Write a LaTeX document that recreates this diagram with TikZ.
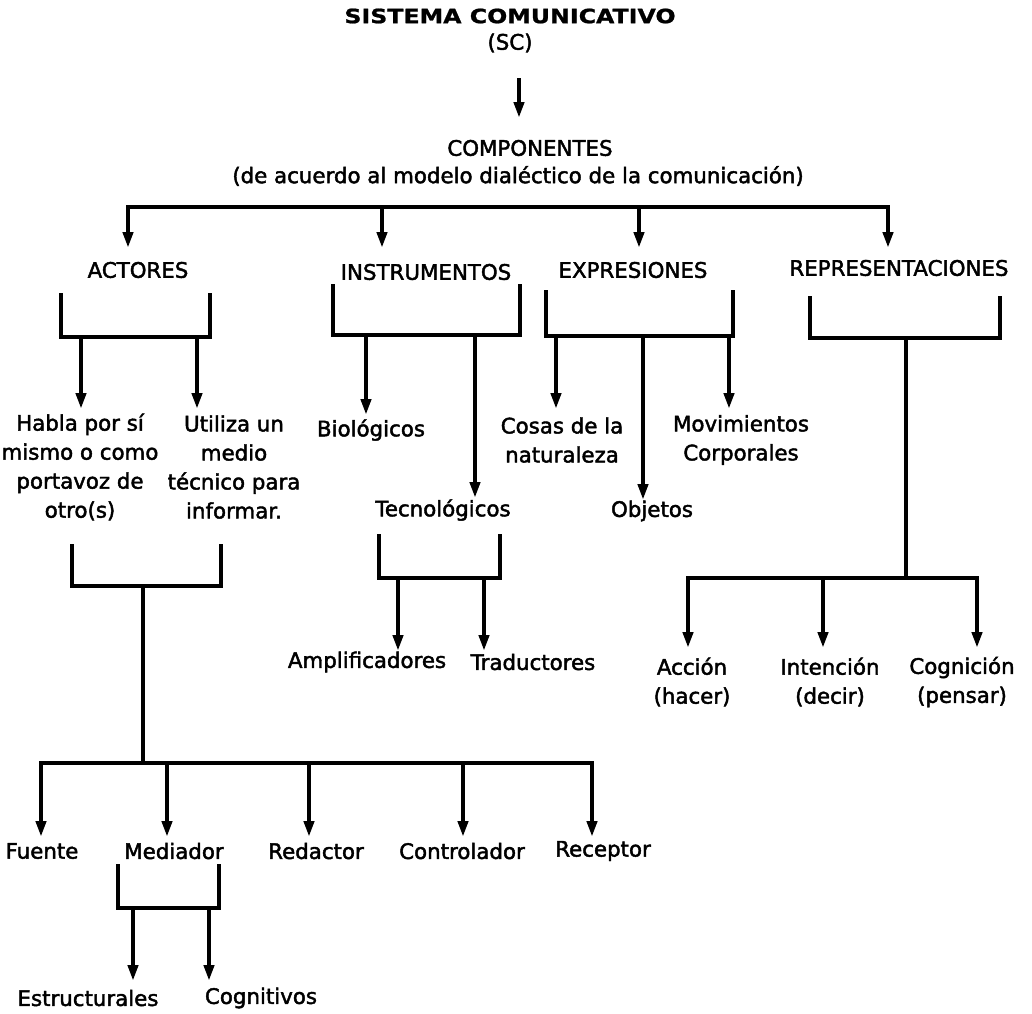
\documentclass[tikz,border=0pt]{standalone}
\usepackage{fontspec}
\setmainfont{DejaVu Sans}
\newfontfamily\lblfont{DejaVu Sans}[FakeBold=2]
\newfontfamily\titlefont{DejaVu Sans}[FakeStretch=1.2,FakeBold=1]
\usetikzlibrary{arrows.meta}
\begin{document}
\begin{tikzpicture}[x=0.75pt,y=-0.75pt,
  lbl/.style={inner sep=0pt, align=center, font=\lblfont\fontsize{16pt}{21.75pt}\selectfont},
  ttl/.style={inner sep=0pt, font=\titlefont\bfseries\fontsize{14.8pt}{17pt}\selectfont},
  link/.style={line width=3.2pt, line join=miter, line cap=rect},
  arr/.style={line width=3pt, -{Triangle[length=12pt,width=7.5pt]}}]
\fill[white] (0,0) rectangle (1032,1014);
\useasboundingbox (0,0) rectangle (1032,1014);

% ---- heading ----
\node[ttl] (sis) at (510,16) {SISTEMA COMUNICATIVO};
\node[lbl] (sc) at (510,43) {(SC)};
\node[lbl] (comp) at (530,148) {COMPONENTES};
\node[lbl] (mod) at (518,176) {(de acuerdo al modelo dialéctico de la comunicación)};
\coordinate (s0) at (519,78);
\coordinate (s1) at (519,118);
\draw[arr] (s0) -- (s1);

% ---- main bar ----
\coordinate (b1) at (128,207);
\coordinate (b2) at (382,207);
\coordinate (b3) at (639,207);
\coordinate (b4) at (888,207);
\draw[link] (b1) -- (b4);
\foreach \c in {b1,b2,b3,b4}{\draw[arr] (\c) -- ++(0,41);}

\node[lbl] (act) at (138,270) {ACTORES};
\node[lbl] (ins) at (426,272) {INSTRUMENTOS};
\node[lbl] (exp) at (633,270) {EXPRESIONES};
\node[lbl] (rep) at (899,268) {REPRESENTACIONES};

% ---- actores ----
\coordinate (a1) at (61,295);  \coordinate (a2) at (61,337);
\coordinate (a3) at (210,337); \coordinate (a4) at (210,295);
\draw[link] (a1) -- (a2) -- (a3) -- (a4);
\coordinate (a5) at (81,337);  \coordinate (a6) at (197,337);
\draw[arr] (a5) -- (81,409);
\draw[arr] (a6) -- (197,409);
\node[lbl] (habla) at (80,467) {Habla por sí\\mismo o como\\portavoz de\\otro(s)};
\node[lbl] (util) at (234,467) {Utiliza un\\medio\\técnico para\\informar.};

\coordinate (c1) at (72,546);  \coordinate (c2) at (72,586);
\coordinate (c3) at (221,586); \coordinate (c4) at (221,546);
\draw[link] (c1) -- (c2) -- (c3) -- (c4);
\coordinate (c5) at (143,586);
\coordinate (d0) at (143,763);
\draw[link] (c5) -- (d0);

\coordinate (d1) at (41,763);
\coordinate (d2) at (167,763);
\coordinate (d3) at (309,763);
\coordinate (d4) at (463,763);
\coordinate (d5) at (592,763);
\draw[link] (d1) -- (d5);
\foreach \c in {d1,d2,d3,d4,d5}{\draw[arr] (\c) -- ++(0,74);}
\node[lbl] (fue) at (42,851) {Fuente};
\node[lbl] (med) at (174,851) {Mediador};
\node[lbl] (red) at (316,851) {Redactor};
\node[lbl] (con) at (462,851) {Controlador};
\node[lbl] (rec) at (603,851) {Receptor};

\coordinate (m1) at (118,866); \coordinate (m2) at (118,908);
\coordinate (m3) at (219,908); \coordinate (m4) at (219,866);
\draw[link] (m1) -- (m2) -- (m3) -- (m4);
\coordinate (m5) at (133,908); \coordinate (m6) at (209,908);
\draw[arr] (m5) -- (133,981);
\draw[arr] (m6) -- (209,981);
\node[lbl] (est) at (88,998) {Estructurales};
\node[lbl] (cog) at (261,998) {Cognitivos};

% ---- instrumentos ----
\coordinate (i1) at (333,286); \coordinate (i2) at (333,335);
\coordinate (i3) at (520,335); \coordinate (i4) at (520,286);
\draw[link] (i1) -- (i2) -- (i3) -- (i4);
\coordinate (i5) at (366,335); \coordinate (i6) at (475,335);
\draw[arr] (i5) -- (366,415);
\draw[arr] (i6) -- (475,498);
\node[lbl] (bio) at (371,430) {Biológicos};
\node[lbl] (tec) at (443,510) {Tecnológicos};

\coordinate (k1) at (379,536); \coordinate (k2) at (379,578);
\coordinate (k3) at (500,578); \coordinate (k4) at (500,536);
\draw[link] (k1) -- (k2) -- (k3) -- (k4);
\coordinate (k5) at (398,578); \coordinate (k6) at (484,578);
\draw[arr] (k5) -- (398,651);
\draw[arr] (k6) -- (484,651);
\node[lbl] (amp) at (367,662) {Amplificadores};
\node[lbl] (tra) at (533,662) {Traductores};

% ---- expresiones ----
\coordinate (e1) at (546,292); \coordinate (e2) at (546,336);
\coordinate (e3) at (733,336); \coordinate (e4) at (733,292);
\draw[link] (e1) -- (e2) -- (e3) -- (e4);
\coordinate (e5) at (556,336); \coordinate (e6) at (643,336); \coordinate (e7) at (729,336);
\draw[arr] (e5) -- (556,409);
\draw[arr] (e6) -- (643,500);
\draw[arr] (e7) -- (729,409);
\node[lbl] (cos) at (562,440) {Cosas de la\\naturaleza};
\node[lbl] (mov) at (741,440) {Movimientos\\Corporales};
\node[lbl] (obj) at (652,511) {Objetos};

% ---- representaciones ----
\coordinate (r1) at (810,298); \coordinate (r2) at (810,338);
\coordinate (r3) at (1000,338); \coordinate (r4) at (1000,298);
\draw[link] (r1) -- (r2) -- (r3) -- (r4);
\coordinate (r5) at (906,338);
\coordinate (r0) at (906,578);
\draw[link] (r5) -- (r0);
\coordinate (q1) at (688,578);
\coordinate (q2) at (823,578);
\coordinate (q3) at (977,578);
\draw[link] (q1) -- (q3);
\foreach \c in {q1,q2,q3}{\draw[arr] (\c) -- ++(0,70);}
\node[lbl] (acc) at (692,682) {Acción\\(hacer)};
\node[lbl] (int) at (830,682) {Intención\\(decir)};
\node[lbl] (cgn) at (962,682) {Cognición\\(pensar)};
\end{tikzpicture}
\end{document}
